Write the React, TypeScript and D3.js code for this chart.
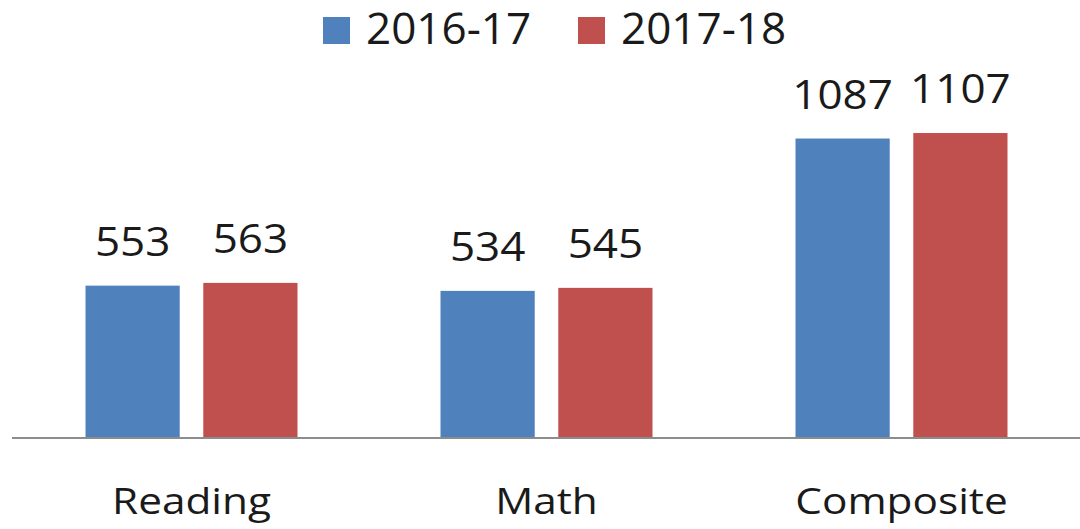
import React from "react";
import * as d3 from "d3";

const categories = ["Reading", "Math", "Composite"];
const seriesNames = ["2016-17", "2017-18"];
const values2016 = [553, 534, 1087];
const values2017 = [563, 545, 1107];
const colors = ["#4f81bd", "#c0504d"];

const W = 1080;
const H = 529;
const FONT = "'Open Sans', sans-serif";
const TEXT = "#1a1a1a";

export default function App() {
  const series = [values2016, values2017];
  const x0 = d3.scaleBand().domain(categories).range([14, 1079]).paddingInner(0).paddingOuter(0);
  const groupPad = 71.5;
  const x1 = d3
    .scaleBand()
    .domain(seriesNames)
    .range([groupPad, x0.bandwidth() - groupPad])
    .paddingInner(0.2)
    .paddingOuter(0);
  const y = d3.scaleLinear().domain([0, 1200]).range([438, 438 - 1200 * 0.2755]);

  const legendItems = [
    { name: seriesNames[0], sx: 323, tx: 366 },
    { name: seriesNames[1], sx: 578, tx: 621 },
  ];

  return (
    <svg
      width={W}
      height={H}
      style={{ position: "absolute", left: 0, top: 0, background: "#fff" }}
      fontFamily={FONT}
    >
      <rect x={0} y={0} width={W} height={H} fill="#fff" />
      {legendItems.map((l, i) => (
        <g key={l.name}>
          <rect x={l.sx} y={17} width={27} height={27} fill={colors[i]} />
          <text x={l.tx} y={44} fontSize={44} fill={TEXT}>
            {l.name}
          </text>
        </g>
      ))}
      {categories.map((c, ci) => (
        <g key={c} transform={`translate(${x0(c)},0)`}>
          {seriesNames.map((s, si) => {
            const v = series[si][ci];
            const bx = x1(s)!;
            const by = y(v);
            const cx = bx + x1.bandwidth() / 2;
            return (
              <g key={s}>
                <rect x={bx} y={by} width={x1.bandwidth()} height={y(0) - by} fill={colors[si]} />
                <text
                  transform={`translate(${cx},${by - 30}) scale(1.1,1)`}
                  fontSize={40}
                  textAnchor="middle"
                  fill={TEXT}
                >
                  {v}
                </text>
              </g>
            );
          })}
          <text
            transform={`translate(${x0.bandwidth() / 2},514) scale(1.16,1)`}
            fontSize={36.5}
            textAnchor="middle"
            fill={TEXT}
          >
            {c}
          </text>
        </g>
      ))}
      <line x1={12} x2={1080} y1={y(0)} y2={y(0)} stroke="#8c8c8c" strokeWidth={2} />
    </svg>
  );
}
